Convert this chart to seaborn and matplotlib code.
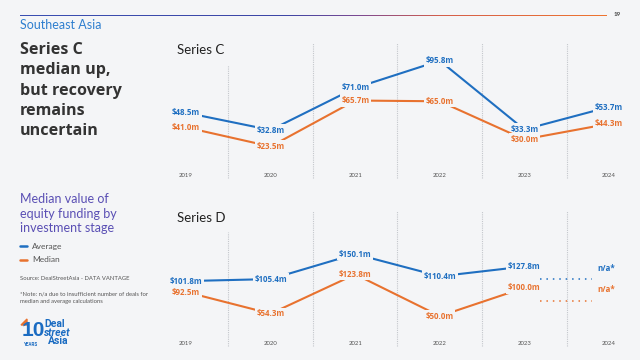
import numpy as np
import pandas as pd
import matplotlib.pyplot as plt
import seaborn as sns
from matplotlib.colors import LinearSegmentedColormap
from matplotlib.patches import Polygon

# Chart data (US$ m)
years = [2019, 2020, 2021, 2022, 2023, 2024]
series_c_average = [48.5, 32.8, 71.0, 95.8, 33.3, 53.7]
series_c_median = [41.0, 23.5, 65.7, 65.0, 30.0, 44.3]
series_d_average = [101.8, 105.4, 150.1, 110.4, 127.8, np.nan]
series_d_median = [92.5, 54.3, 123.8, 50.0, 100.0, np.nan]
measures = ["Average", "Median"]

# Colours
BG = "#f4f5f7"
BLUE = "#1f6fc1"
ORANGE = "#e8722f"
PALETTE = {"Average": BLUE, "Median": ORANGE}
BOLD_FONT = ["Open Sans", "DejaVu Sans"]

sns.set_theme(style="white")
plt.rcParams["font.family"] = ["Lato", "DejaVu Sans"]

W, H = 640, 360
fig = plt.figure(figsize=(W / 100, H / 100), dpi=100, facecolor=BG)


def fx(px):
    return px / W


def fy(py):
    return 1 - py / H


def draw_panel(rect, avg, med, title, ylims, first_top):
    # average and median each get their own y scale, like the original slide
    ax = fig.add_axes(rect)
    ax2 = ax.twinx()
    df = pd.DataFrame({"year": years, "Average": avg, "Median": med})
    for a, name in [(ax, "Average"), (ax2, "Median")]:
        sns.lineplot(data=df, x="year", y=name, color=PALETTE[name],
                     linewidth=1.5, ax=a, zorder=2)
        a.set_xlim(years[0] - 0.25, years[-1] + 0.25)
        a.set_ylim(*ylims[name])
        a.axis("off")
        # value labels sitting on the points
        for yr, v in zip(years, df[name]):
            if np.isnan(v):
                continue
            a.text(yr, v, f"${v:.1f}m", ha="center", va="center", fontsize=5.7,
                   fontweight="bold", family=BOLD_FONT, color=PALETTE[name],
                   bbox=dict(boxstyle="square,pad=0.2", fc=BG, ec="none"), zorder=3)

    # dotted separators between years
    for i, x in enumerate(np.array(years[:-1]) + 0.5):
        ax.axvline(x, ymin=0.015, ymax=first_top if i == 0 else 0.98,
                   color="#c4c7cc", linestyle=(0, (1, 1)), linewidth=0.8, zorder=1)

    # year labels along the bottom
    for yr in years:
        ax.text(yr, 0.03, str(yr), transform=ax.get_xaxis_transform(),
                ha="center", va="center", fontsize=4.3, color="#555555")

    ax.text(0.025, 1.0 - 0.07, title, transform=ax.transAxes, fontsize=9.5,
            color="#222222", ha="left", va="center")
    return ax


# Series C panel
draw_panel([fx(165), fy(180), fx(465), 140 / H], series_c_average, series_c_median,
           "Series C", {"Average": (-12.6, 114.6), "Median": (-7.3, 121.3)}, 0.82)

# Series D panel
ax_d = draw_panel([fx(165), fy(348), fx(465), 140 / H], series_d_average, series_d_median,
                  "Series D", {"Average": (-17.6, 232.2), "Median": (-6.4, 241.0)}, 0.83)

# 2024 Series D is n/a
for frac_lbl, frac_dot, col in [(0.571, 0.493, BLUE), (0.421, 0.336, ORANGE)]:
    ax_d.text(years[-1] - 0.03, frac_lbl, "n/a*", transform=ax_d.get_xaxis_transform(),
              ha="center", va="center", fontsize=5.8, fontweight="bold",
              family=BOLD_FONT, color=col)
    ax_d.plot([years[-2] + 0.18, years[-1] - 0.2], [frac_dot, frac_dot],
              transform=ax_d.get_xaxis_transform(), color=col,
              linestyle=(0, (1, 3.2)), linewidth=1.1)

# Gradient rule along the top
ax_rule = fig.add_axes([fx(20), fy(16.2), fx(587), 1.6 / H])
rule_cmap = LinearSegmentedColormap.from_list(
    "rule", [(0, "#3a4fb2"), (0.45, "#3d46a6"), (0.58, "#7d4a92"),
             (0.72, "#d55f4b"), (1, "#ee7530")])
ax_rule.imshow(np.linspace(0, 1, 256)[None, :], aspect="auto", cmap=rule_cmap)
ax_rule.axis("off")
fig.text(fx(617), fy(15), "19", fontsize=4.5, fontweight="bold", color="#444444",
         ha="center", va="center")

# Left-hand text column
fig.text(fx(20), fy(25), "Southeast Asia", fontsize=9, color="#2f7fcf",
         ha="left", va="center")
fig.text(fx(20), fy(42), "Series C\nmedian up,\nbut recovery\nremains\nuncertain",
         fontsize=11.6, fontweight="bold", color="#333333", ha="left", va="top",
         linespacing=1.36, family=BOLD_FONT)
fig.text(fx(20), fy(193), "Median value of\nequity funding by\ninvestment stage",
         fontsize=9, color="#5a4fb4", ha="left", va="top", linespacing=1.27)

for py, name in [(246, "Average"), (260, "Median")]:
    fig.add_artist(plt.Line2D([fx(20), fx(27)], [fy(py), fy(py)],
                              color=PALETTE[name], linewidth=1.8))
    fig.text(fx(32), fy(py), name, fontsize=6, color="#555555", ha="left", va="center")

fig.text(fx(20), fy(279), "Source: DealStreetAsia - DATA VANTAGE", fontsize=4.2,
         color="#555555", ha="left", va="center")
fig.text(fx(20), fy(292), "*Note: n/a due to insufficient number of deals for\n"
         "median and average calculations", fontsize=4.2, color="#555555",
         ha="left", va="top", linespacing=1.6)

# Logo
LOGO = "#1b6cc2"
LOGO_FONT = ["Liberation Sans Narrow", "Liberation Sans", "DejaVu Sans"]
fig.text(fx(22), fy(331), "10", fontsize=15, fontweight="bold", color=LOGO,
         ha="left", va="center", family=LOGO_FONT)
fig.add_artist(Polygon([[fx(21), fy(325)], [fx(27), fy(319)], [fx(27), fy(325)]],
                       closed=True, color=ORANGE, transform=fig.transFigure))
fig.text(fx(24), fy(344), "YEARS", fontsize=3.3, fontweight="bold", color=LOGO,
         ha="left", va="center", family=["Roboto", "DejaVu Sans"])
fig.text(fx(44), fy(324), "Deal", fontsize=7.5, fontweight="bold", color=LOGO,
         ha="left", va="center", family=["Roboto", "DejaVu Sans"])
fig.text(fx(44), fy(332.5), "street", fontsize=7.5, fontweight="bold", style="italic",
         color=LOGO, ha="left", va="center", family=["Roboto", "DejaVu Sans"])
fig.text(fx(48), fy(341.5), "Asia", fontsize=7.5, fontweight="bold", color=LOGO,
         ha="left", va="center", family=["Roboto", "DejaVu Sans"])

fig.savefig("out.png", dpi=100, facecolor=BG)
